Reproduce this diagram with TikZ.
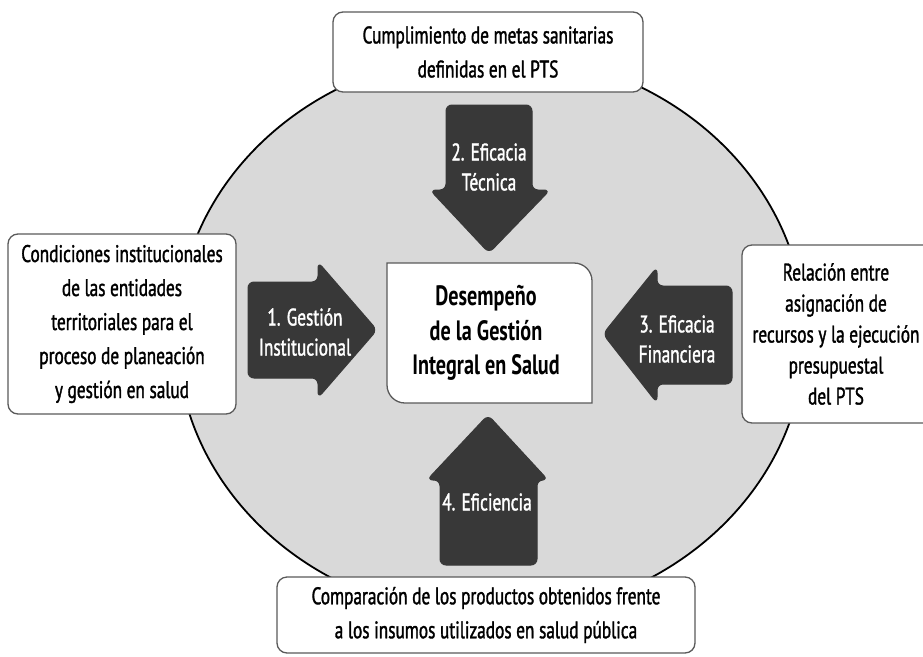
\documentclass[tikz,border=0pt]{standalone}
\usepackage{fontspec}
\setmainfont{PT Sans}[FakeStretch=0.72, UprightFeatures={FakeBold=1.4}]
\definecolor{arrowgray}{RGB}{56,56,56}
\definecolor{circlegray}{RGB}{217,217,217}
\definecolor{boxline}{RGB}{90,90,90}
\tikzset{
  infobox/.style={draw=boxline, line width=1.3pt, fill=white, rounded corners=10pt,
    align=center, inner sep=0pt, font=\fontsize{24}{34}\selectfont},
  bigarrow/.style={fill=arrowgray, draw=arrowgray, line width=1pt, rounded corners=6pt},
  arrowlabel/.style={text=white, align=center, inner sep=0pt, font=\fontsize{24}{30}\selectfont},
}
\begin{document}
\begin{tikzpicture}[x=1pt,y=-1pt]
\clip (0,0) rectangle (923,656);
\fill[white] (0,0) rectangle (923,656);
% big circle
\draw[fill=circlegray, line width=1.8pt] (491,335) ellipse [x radius=314pt, y radius=282pt];
% outer boxes
\node[infobox, minimum width=310pt, minimum height=80pt] (top) at (488,52)
  {Cumplimiento de metas sanitarias\\definidas en el PTS};
\node[infobox, minimum width=228pt, minimum height=180pt] (left) at (122,324)
  {Condiciones institucionales\\de las entidades\\territoriales para el\\proceso de planeación\\y gestión en salud};
\node[infobox, minimum width=202pt, minimum height=178pt] (right) at (843,334) {};
\node[align=center, inner sep=0pt, font=\fontsize{24}{31}\selectfont] (righttext) at (836,334)
  {Relación entre\\asignación de\\recursos y la ejecución\\presupuestal\\del PTS};
\node[infobox, minimum width=418pt, minimum height=76pt] (bottom) at (486,615)
  {Comparación de los productos obtenidos frente\\a los insumos utilizados en salud pública};
% center box
\draw[fill=white, draw=boxline, line width=1.3pt]
  (387,263) -- (574,263) .. controls (584,263) and (592,271) .. (592,281)
  -- (592,403) -- (405,403) .. controls (395,403) and (387,395) .. (387,385) -- cycle;
\node[align=center, inner sep=0pt, font=\bfseries\fontsize{28}{34.5}\selectfont] (center) at (486,333)
  {Desempeño\\de la Gestión\\Integral en Salud};
% arrows
\draw[bigarrow] (248,282) -- (318,282) -- (318,262) -- (377,330) -- (318,398) -- (318,378) -- (248,378) -- cycle;
\draw[bigarrow] (732,286) -- (657,286) -- (657,267) -- (603,334) -- (657,403) -- (657,384) -- (732,384) -- cycle;
\draw[bigarrow] (446,105) -- (532,105) -- (532,190) -- (550,190) -- (489,253) -- (430,190) -- (446,190) -- cycle;
\draw[bigarrow] (440,565) -- (537,565) -- (537,480) -- (548,480) -- (488,415) -- (427,480) -- (440,480) -- cycle;
% arrow labels
\node[arrowlabel] (a1) at (305,332) {1. Gestión\\Institucional};
\node[arrowlabel] (a2) at (489,167) {2. Eficacia\\Técnica};
\node[arrowlabel] (a3) at (677,339) {3. Eficacia\\Financiera};
\node[arrowlabel] (a4) at (487,502) {4. Eficiencia};
\end{tikzpicture}
\end{document}
